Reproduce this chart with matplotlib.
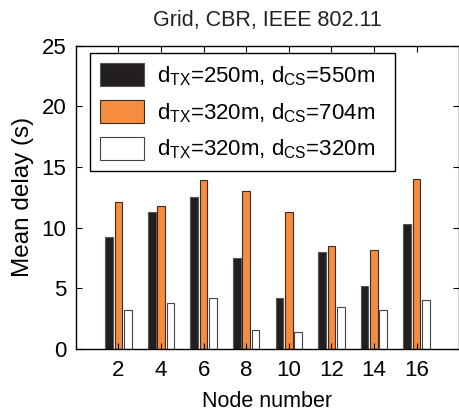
import numpy as np
import matplotlib.pyplot as plt

plt.rcParams['font.family'] = ['Liberation Sans', 'DejaVu Sans']
plt.rcParams['mathtext.fontset'] = 'custom'
plt.rcParams['mathtext.rm'] = 'Liberation Sans'
plt.rcParams['mathtext.it'] = 'Liberation Sans'

# Mean delay per node count for the three radio ranges
nodes = [2, 4, 6, 8, 10, 12, 14, 16]
delay_250_550 = [9.2, 11.3, 12.5, 7.5, 4.2, 8.0, 5.2, 10.3]
delay_320_704 = [12.1, 11.8, 13.9, 13.0, 11.3, 8.5, 8.2, 14.0]
delay_320_320 = [3.2, 3.8, 4.2, 1.6, 1.4, 3.5, 3.2, 4.0]
labels = [r'd$_{\mathrm{TX}}$=250m, d$_{\mathrm{CS}}$=550m',
          r'd$_{\mathrm{TX}}$=320m, d$_{\mathrm{CS}}$=704m',
          r'd$_{\mathrm{TX}}$=320m, d$_{\mathrm{CS}}$=320m']

fig = plt.figure(figsize=(4.6, 4.13), dpi=100)
ax = fig.add_axes([0.165, 0.155, 0.833, 0.734])

x = np.array(nodes, dtype=float)
w = 0.36
ax.bar(x - 0.44, delay_250_550, w, color='#231f20', edgecolor='#555555', linewidth=0.8, label=labels[0])
ax.bar(x, delay_320_704, w, color='#f68d3e', edgecolor='#3a2a20', linewidth=0.8, label=labels[1])
ax.bar(x + 0.44, delay_320_320, w, color='white', edgecolor='#444444', linewidth=0.8, label=labels[2])

ax.set_xlim(0, 18)
ax.set_ylim(0, 25)
ax.set_xticks(nodes)
ax.set_yticks([0, 5, 10, 15, 20, 25])
ax.tick_params(direction='in', top=True, right=True, length=4, labelsize=16)
ax.tick_params(axis='x', pad=8)
ax.tick_params(axis='y', pad=7)
for s in ax.spines.values():
    s.set_linewidth(1.0)

ax.set_title('Grid, CBR, IEEE 802.11', fontsize=15.5, pad=14, color='#222222')
ax.set_xlabel('Node number', fontsize=15.5, labelpad=7)
ax.set_ylabel('Mean delay (s)', fontsize=17.5, labelpad=5)

# legend box stretched to a fixed width
leg = ax.legend(loc='upper left', bbox_to_anchor=(0.038, 0.5, 0.794, 0.475), mode='expand',
                fontsize=16, frameon=True, fancybox=False, edgecolor='black', framealpha=1,
                handlelength=1.95, handleheight=1.2, labelspacing=0.55,
                handletextpad=0.6, borderpad=0.45, borderaxespad=0)
leg.get_frame().set_linewidth(1.0)

fig.savefig('out.png', dpi=100)
